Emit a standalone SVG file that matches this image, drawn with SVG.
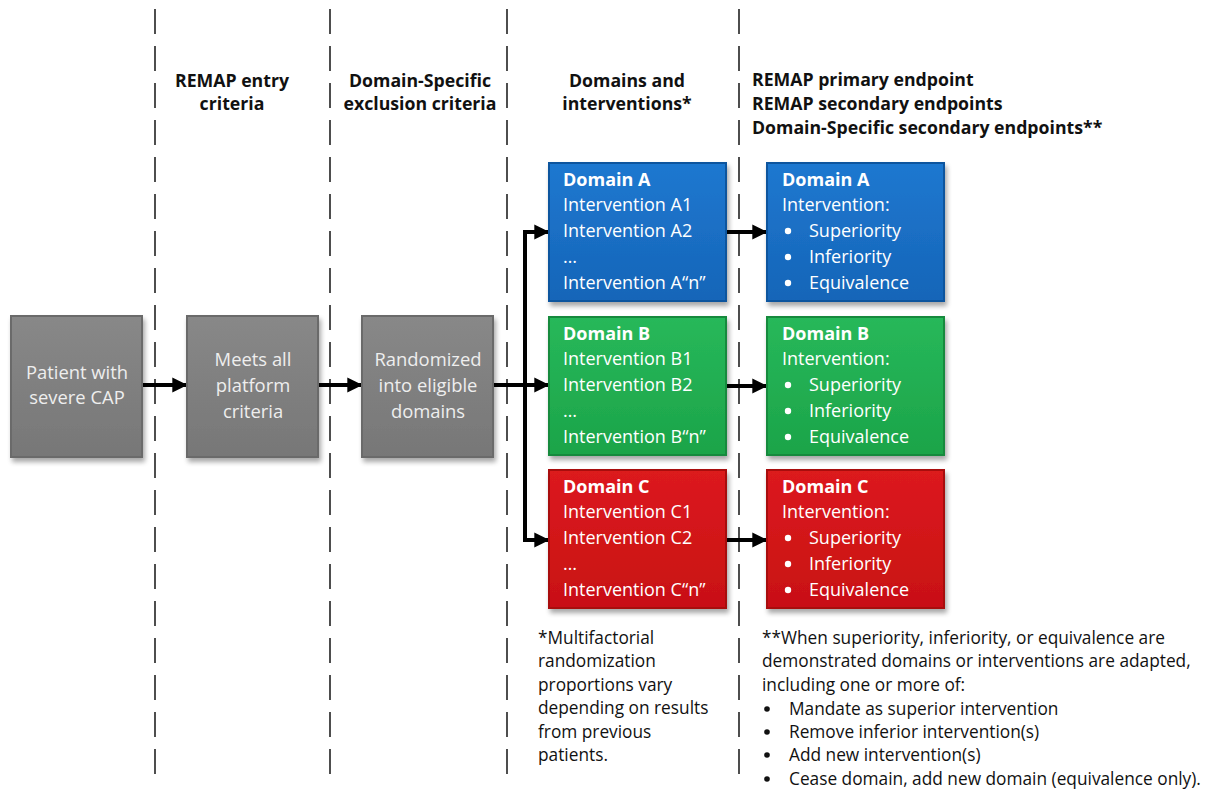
<svg xmlns="http://www.w3.org/2000/svg" width="1216" height="794" viewBox="0 0 1216 794">
<style>
text{font-family:"Open Sans",Lato,"Liberation Sans",sans-serif}
.hdr{font-size:17.7px;font-weight:bold;fill:#111}
.gt{font-size:18.4px;fill:#eeeeee;text-anchor:middle}
.bt{font-size:18px;fill:#ffffff}
.bb{font-weight:bold}
.fn{font-size:17.3px;fill:#111}
.dash{stroke:#222;stroke-width:1.6;stroke-dasharray:25 12;fill:none}
.conn{stroke:#000;stroke-width:4;fill:none}
</style>
<defs>
<filter id="sh" x="-10%" y="-10%" width="125%" height="125%">
<feGaussianBlur in="SourceAlpha" stdDeviation="2.5"/>
<feOffset dx="2" dy="4" result="o"/>
<feComponentTransfer><feFuncA type="linear" slope="0.35"/></feComponentTransfer>
<feMerge><feMergeNode/><feMergeNode in="SourceGraphic"/></feMerge>
</filter>
<linearGradient id="gGray" x1="0" y1="0" x2="0" y2="1"><stop offset="0" stop-color="#888"/><stop offset="1" stop-color="#777"/></linearGradient>
<linearGradient id="gBlue" x1="0" y1="0" x2="0" y2="1"><stop offset="0" stop-color="#1f78d0"/><stop offset="1" stop-color="#1565b8"/></linearGradient>
<linearGradient id="gGreen" x1="0" y1="0" x2="0" y2="1"><stop offset="0" stop-color="#27b85a"/><stop offset="1" stop-color="#1ca449"/></linearGradient>
<linearGradient id="gRed" x1="0" y1="0" x2="0" y2="1"><stop offset="0" stop-color="#dc1a1e"/><stop offset="1" stop-color="#c81014"/></linearGradient>
<marker id="ah" viewBox="0 0 10 10" refX="9" refY="5" markerWidth="4.2" markerHeight="3.8" orient="auto" markerUnits="strokeWidth"><path d="M0,0 L10,5 L0,10 z" fill="#000"/></marker>
</defs>
<rect width="1216" height="794" fill="#fff"/>

<g id="dividers">
<line class="dash" x1="155" y1="9" x2="155" y2="778"/>
<line class="dash" x1="330" y1="9" x2="330" y2="778"/>
<line class="dash" x1="507" y1="9" x2="507" y2="778"/>
<line class="dash" x1="739" y1="9" x2="739" y2="778"/>
</g>

<g id="headers">
<text class="hdr" x="232" y="87" text-anchor="middle">REMAP entry</text>
<text class="hdr" x="232" y="110" text-anchor="middle">criteria</text>
<text class="hdr" x="420" y="87" text-anchor="middle">Domain-Specific</text>
<text class="hdr" x="420" y="110" text-anchor="middle">exclusion criteria</text>
<text class="hdr" x="627" y="87" text-anchor="middle">Domains and</text>
<text class="hdr" x="627" y="110" text-anchor="middle">interventions*</text>
<text class="hdr" x="752" y="86">REMAP primary endpoint</text>
<text class="hdr" x="752" y="110">REMAP secondary endpoints</text>
<text class="hdr" x="752" y="134">Domain-Specific secondary endpoints**</text>
</g>

<g id="connectors">
<line class="conn" x1="143" y1="385" x2="186" y2="385" marker-end="url(#ah)"/>
<line class="conn" x1="317" y1="385" x2="361" y2="385" marker-end="url(#ah)"/>
<line class="conn" x1="493" y1="385" x2="548" y2="385" marker-end="url(#ah)"/>
<path class="conn" d="M548,232 H525 V540 H548" />
<line class="conn" x1="530" y1="232" x2="548" y2="232" marker-end="url(#ah)"/>
<line class="conn" x1="530" y1="540" x2="548" y2="540" marker-end="url(#ah)"/>
<line class="conn" x1="726" y1="232" x2="766" y2="232" marker-end="url(#ah)"/>
<line class="conn" x1="726" y1="386" x2="766" y2="386" marker-end="url(#ah)"/>
<line class="conn" x1="726" y1="540" x2="766" y2="540" marker-end="url(#ah)"/>
</g>

<g id="patient">
<rect x="11" y="316" width="131" height="141" fill="url(#gGray)" stroke="#6a6a6a" stroke-width="2" filter="url(#sh)"/>
<text class="gt" x="77" y="379">Patient with</text>
<text class="gt" x="77" y="404">severe CAP</text>
</g>
<g id="meets">
<rect x="187" y="316" width="131" height="141" fill="url(#gGray)" stroke="#6a6a6a" stroke-width="2" filter="url(#sh)"/>
<text class="gt" x="253" y="366">Meets all</text>
<text class="gt" x="253" y="392">platform</text>
<text class="gt" x="253" y="418">criteria</text>
</g>
<g id="randomized">
<rect x="362" y="316" width="131" height="141" fill="url(#gGray)" stroke="#6a6a6a" stroke-width="2" filter="url(#sh)"/>
<text class="gt" x="428" y="366">Randomized</text>
<text class="gt" x="428" y="392">into eligible</text>
<text class="gt" x="428" y="418">domains</text>
</g>

<g id="domainA">
<rect x="549" y="163" width="177" height="138" fill="url(#gBlue)" stroke="#0f559e" stroke-width="2" filter="url(#sh)"/>
<text class="bt bb" x="563" y="186">Domain A</text>
<text class="bt" x="563" y="211">Intervention A1</text>
<text class="bt" x="563" y="237">Intervention A2</text>
<text class="bt" x="563" y="263">…</text>
<text class="bt" x="563" y="289">Intervention A“n”</text>
</g>
<g id="domainB">
<rect x="549" y="317" width="177" height="138" fill="url(#gGreen)" stroke="#168a3c" stroke-width="2" filter="url(#sh)"/>
<text class="bt bb" x="563" y="340">Domain B</text>
<text class="bt" x="563" y="365">Intervention B1</text>
<text class="bt" x="563" y="391">Intervention B2</text>
<text class="bt" x="563" y="417">…</text>
<text class="bt" x="563" y="443">Intervention B“n”</text>
</g>
<g id="domainC">
<rect x="549" y="470" width="177" height="138" fill="url(#gRed)" stroke="#a80c10" stroke-width="2" filter="url(#sh)"/>
<text class="bt bb" x="563" y="493">Domain C</text>
<text class="bt" x="563" y="518">Intervention C1</text>
<text class="bt" x="563" y="544">Intervention C2</text>
<text class="bt" x="563" y="570">…</text>
<text class="bt" x="563" y="596">Intervention C“n”</text>
</g>

<g id="endpointA">
<rect x="767" y="163" width="177" height="138" fill="url(#gBlue)" stroke="#0f559e" stroke-width="2" filter="url(#sh)"/>
<text class="bt bb" x="782" y="186">Domain A</text>
<text class="bt" x="782" y="211">Intervention:</text>
<circle cx="788" cy="231" r="3.2" fill="#fff"/><text class="bt" x="809" y="237">Superiority</text>
<circle cx="788" cy="257" r="3.2" fill="#fff"/><text class="bt" x="809" y="263">Inferiority</text>
<circle cx="788" cy="283" r="3.2" fill="#fff"/><text class="bt" x="809" y="289">Equivalence</text>
</g>
<g id="endpointB">
<rect x="767" y="317" width="177" height="138" fill="url(#gGreen)" stroke="#168a3c" stroke-width="2" filter="url(#sh)"/>
<text class="bt bb" x="782" y="340">Domain B</text>
<text class="bt" x="782" y="365">Intervention:</text>
<circle cx="788" cy="385" r="3.2" fill="#fff"/><text class="bt" x="809" y="391">Superiority</text>
<circle cx="788" cy="411" r="3.2" fill="#fff"/><text class="bt" x="809" y="417">Inferiority</text>
<circle cx="788" cy="437" r="3.2" fill="#fff"/><text class="bt" x="809" y="443">Equivalence</text>
</g>
<g id="endpointC">
<rect x="767" y="470" width="177" height="138" fill="url(#gRed)" stroke="#a80c10" stroke-width="2" filter="url(#sh)"/>
<text class="bt bb" x="782" y="493">Domain C</text>
<text class="bt" x="782" y="518">Intervention:</text>
<circle cx="788" cy="538" r="3.2" fill="#fff"/><text class="bt" x="809" y="544">Superiority</text>
<circle cx="788" cy="564" r="3.2" fill="#fff"/><text class="bt" x="809" y="570">Inferiority</text>
<circle cx="788" cy="590" r="3.2" fill="#fff"/><text class="bt" x="809" y="596">Equivalence</text>
</g>

<g id="footnote1">
<text class="fn" x="538" y="644">*Multifactorial</text>
<text class="fn" x="538" y="667">randomization</text>
<text class="fn" x="538" y="691">proportions vary</text>
<text class="fn" x="538" y="714">depending on results</text>
<text class="fn" x="538" y="738">from previous</text>
<text class="fn" x="538" y="761">patients.</text>
</g>
<g id="footnote2">
<text class="fn" x="762" y="644">**When superiority, inferiority, or equivalence are</text>
<text class="fn" x="762" y="667">demonstrated domains or interventions are adapted,</text>
<text class="fn" x="762" y="691">including one or more of:</text>
<circle cx="767" cy="709" r="2.8" fill="#111"/><text class="fn" x="789" y="715">Mandate as superior intervention</text>
<circle cx="767" cy="732" r="2.8" fill="#111"/><text class="fn" x="789" y="738">Remove inferior intervention(s)</text>
<circle cx="767" cy="755" r="2.8" fill="#111"/><text class="fn" x="789" y="761">Add new intervention(s)</text>
<circle cx="767" cy="779" r="2.8" fill="#111"/><text class="fn" x="789" y="785">Cease domain, add new domain (equivalence only).</text>
</g>
</svg>
